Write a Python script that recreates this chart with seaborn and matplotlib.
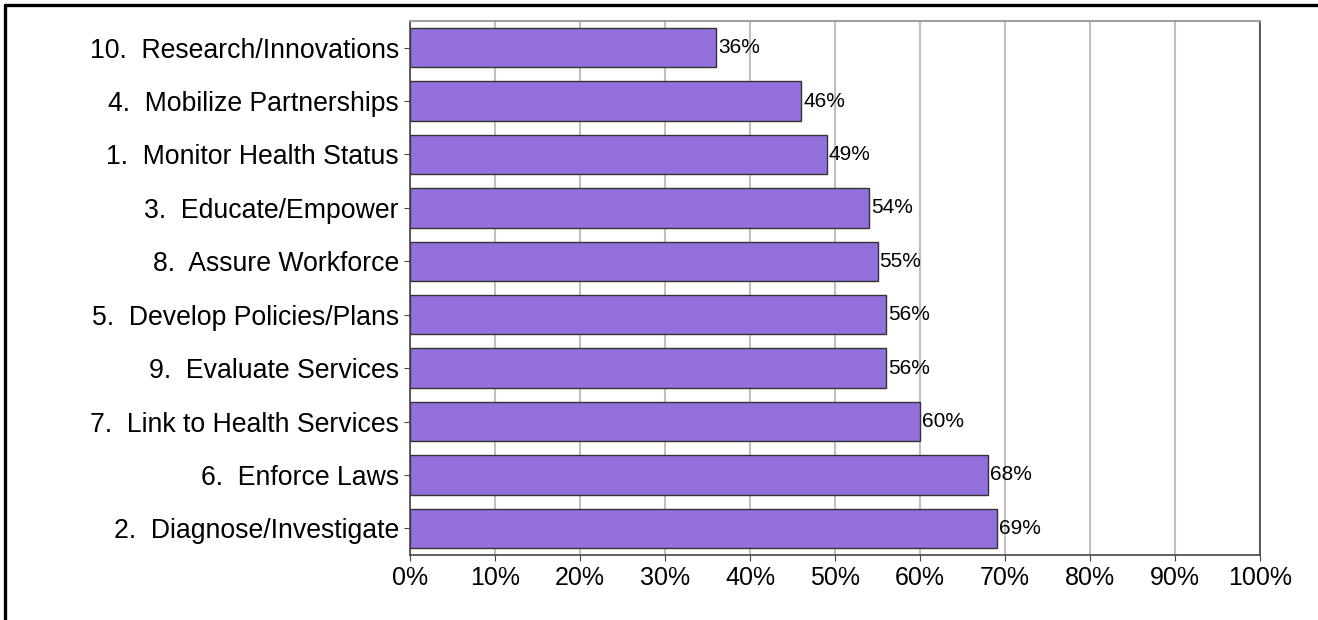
import matplotlib
matplotlib.use("Agg")
import matplotlib.pyplot as plt
import seaborn as sns
import pandas as pd
from matplotlib.lines import Line2D
from matplotlib.ticker import PercentFormatter, MultipleLocator

categories = [
    "10.  Research/Innovations",
    "4.  Mobilize Partnerships",
    "1.  Monitor Health Status",
    "3.  Educate/Empower",
    "8.  Assure Workforce",
    "5.  Develop Policies/Plans",
    "9.  Evaluate Services",
    "7.  Link to Health Services",
    "6.  Enforce Laws",
    "2.  Diagnose/Investigate",
]
values = [36, 46, 49, 54, 55, 56, 56, 60, 68, 69]

df = pd.DataFrame({"cat": categories, "val": values})

sns.set_style("white")
plt.rcParams["font.family"] = ["Liberation Sans", "DejaVu Sans"]
plt.rcParams["text.color"] = "black"
plt.rcParams["xtick.color"] = "black"
plt.rcParams["ytick.color"] = "black"

fig = plt.figure(figsize=(13.18, 6.2), dpi=100)
ax = fig.add_axes([410/1318, 1-555/620, (1260-410)/1318, (555-21)/620])

sns.barplot(data=df, y="cat", x="val", orient="h", color="#9370DB",
            edgecolor="#333333", linewidth=1.0, width=0.74, saturation=1, ax=ax)

ax.set_xlim(0, 100)
ax.xaxis.set_major_locator(MultipleLocator(10))
ax.xaxis.set_major_formatter(PercentFormatter(decimals=0))
ax.grid(axis="x", color="#c0c0c0", linewidth=1.5)
ax.set_axisbelow(True)
ax.set_xlabel("")
ax.set_ylabel("")
ax.tick_params(axis="both", length=4, color="#444444", labelcolor="black", left=True, bottom=True)
ax.tick_params(axis="y", labelsize=19.2, pad=4)
ax.tick_params(axis="x", labelsize=18, pad=4)
for s in ["left", "bottom", "right"]:
    ax.spines[s].set_color("#444444")
    ax.spines[s].set_linewidth(1.2)
ax.spines["top"].set_color("#a0a0a0")
ax.spines["top"].set_linewidth(1.5)

for p, v in zip(ax.patches, values):
    ax.text(p.get_width() + 0.25, p.get_y() + p.get_height() / 2, f"{v}%",
            va="center", ha="left", fontsize=15, color="black")

fig.add_artist(Line2D([5/1318, 1], [1-5/620, 1-5/620], color="black", linewidth=2.4,
                      transform=fig.transFigure))
fig.add_artist(Line2D([5/1318, 5/1318], [0, 1-5/620], color="black", linewidth=2.4,
                      transform=fig.transFigure))

fig.savefig("out.png", dpi=100)
